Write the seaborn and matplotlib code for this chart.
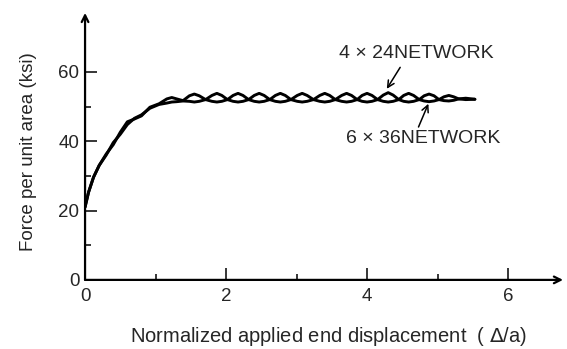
import numpy as np
import pandas as pd
import matplotlib
matplotlib.use("Agg")
import matplotlib.pyplot as plt
import seaborn as sns

# displacement values (delta/a) shared by both networks
disp = [0.0, 0.05, 0.12, 0.2, 0.3, 0.4, 0.5, 0.6, 0.7, 0.8, 0.92, 1.05,
        1.16, 1.23, 1.30, 1.39,
        1.48, 1.55, 1.62, 1.71,
        1.80, 1.87, 1.94, 2.02,
        2.10, 2.17, 2.24, 2.32,
        2.40, 2.47, 2.54, 2.62,
        2.70, 2.77, 2.84, 2.92,
        3.01, 3.08, 3.15, 3.24,
        3.33, 3.40, 3.47, 3.55,
        3.64, 3.71, 3.78, 3.86,
        3.93, 4.00, 4.07, 4.15,
        4.23, 4.30, 4.37, 4.45,
        4.52, 4.59, 4.66, 4.74,
        4.81, 4.88, 4.95, 5.02,
        5.09, 5.16, 5.23, 5.30,
        5.40, 5.53]

# force per unit area (ksi)
force_4x24 = [21.0, 25.3, 29.6, 33.0, 36.3, 39.0, 42.6, 45.6, 46.4, 47.3, 49.8, 50.8,
              52.2, 52.6, 52.2, 51.7,
              53.1, 53.6, 53.1, 52.0,
              53.2, 53.8, 53.2, 52.0,
              53.2, 53.8, 53.2, 52.0,
              53.2, 53.8, 53.2, 52.0,
              53.2, 53.8, 53.2, 52.0,
              53.2, 53.8, 53.2, 52.0,
              53.2, 53.8, 53.2, 52.0,
              53.2, 53.8, 53.2, 52.0,
              53.2, 53.8, 53.2, 52.0,
              53.3, 54.0, 53.3, 52.0,
              53.2, 53.8, 53.2, 52.0,
              53.1, 53.6, 53.1, 52.0,
              52.8, 53.2, 52.8, 52.2,
              52.4, 52.1]
force_6x36 = [21.0, 25.3, 29.6, 33.0, 36.0, 39.6, 42.0, 44.8, 46.6, 47.6, 49.5, 50.6,
              51.0, 51.3, 51.4, 51.6,
              51.5, 51.3, 51.5, 52.0,
              51.5, 51.3, 51.5, 52.0,
              51.5, 51.3, 51.5, 52.0,
              51.5, 51.3, 51.5, 52.0,
              51.5, 51.3, 51.5, 52.0,
              51.5, 51.3, 51.5, 52.0,
              51.5, 51.3, 51.5, 52.0,
              51.5, 51.3, 51.5, 52.0,
              51.5, 51.3, 51.5, 52.0,
              51.5, 51.3, 51.5, 52.0,
              51.5, 51.3, 51.5, 52.0,
              51.6, 51.4, 51.6, 52.0,
              51.7, 51.6, 51.8, 52.2,
              52.0, 52.1]

labels = ["4 × 24NETWORK", "6 × 36NETWORK"]
yticks = [0, 20, 40, 60]
xticks = [0, 2, 4, 6]

df = pd.DataFrame({
    "disp": disp + disp,
    "force": force_4x24 + force_6x36,
    "network": [labels[0]] * len(disp) + [labels[1]] * len(disp),
})

sns.set_theme(style="ticks")
plt.rcParams["font.family"] = ["Liberation Sans", "DejaVu Sans"]

fig = plt.figure(figsize=(5.67, 3.49), dpi=100)
ax = fig.add_axes([0.150, 0.198, 0.843, 0.765])

sns.lineplot(data=df, x="disp", y="force", hue="network", units="network",
             estimator=None, palette=["black", "black"], linewidth=2.1,
             legend=False, ax=ax)

ax.set_xlim(0, 6.78)
ax.set_ylim(0, 77)

# axes drawn as arrows
for s in ["top", "right", "left", "bottom"]:
    ax.spines[s].set_visible(False)
ax.annotate("", xy=(1, 0), xytext=(0, 0), xycoords="axes fraction",
            arrowprops=dict(arrowstyle="->", lw=1.6, color="black",
                            shrinkA=0, shrinkB=0, mutation_scale=12))
ax.annotate("", xy=(0, 1), xytext=(0, 0), xycoords="axes fraction",
            arrowprops=dict(arrowstyle="->", lw=1.6, color="black",
                            shrinkA=0, shrinkB=0, mutation_scale=12))

ax.set_xticks(xticks)
ax.set_xticks([1, 3, 5], minor=True)
ax.set_yticks(yticks)
ax.set_yticks([10, 30, 50], minor=True)
ax.tick_params(axis="both", which="major", direction="in", length=8.5,
               width=1.1, labelsize=13.5, color="black")
ax.tick_params(axis="both", which="minor", direction="in", length=4.5,
               width=1.1, color="black")
ax.tick_params(axis="x", which="major", pad=6)
ax.tick_params(axis="y", which="major", pad=4)

ax.set_xlabel("Normalized applied end displacement  ( $\\mathit{\\Delta}$/a)",
              fontsize=14.5)
ax.set_ylabel("Force per unit area (ksi)", fontsize=13.5)
ax.xaxis.set_label_coords(0.51, -0.17)
ax.yaxis.set_label_coords(-0.10, 0.48)

ax.text(3.60, 65.2, labels[0], fontsize=14, va="center", ha="left")
ax.text(3.70, 40.8, labels[1], fontsize=14, va="center", ha="left")
ax.annotate("", xy=(4.28, 55.1), xytext=(4.47, 61.3),
            arrowprops=dict(arrowstyle="->", lw=1.1, color="black",
                            shrinkA=0, shrinkB=0))
ax.annotate("", xy=(4.87, 50.8), xytext=(4.73, 44.1),
            arrowprops=dict(arrowstyle="->", lw=1.1, color="black",
                            shrinkA=0, shrinkB=0))

fig.savefig("out.png", dpi=100, facecolor="white")
